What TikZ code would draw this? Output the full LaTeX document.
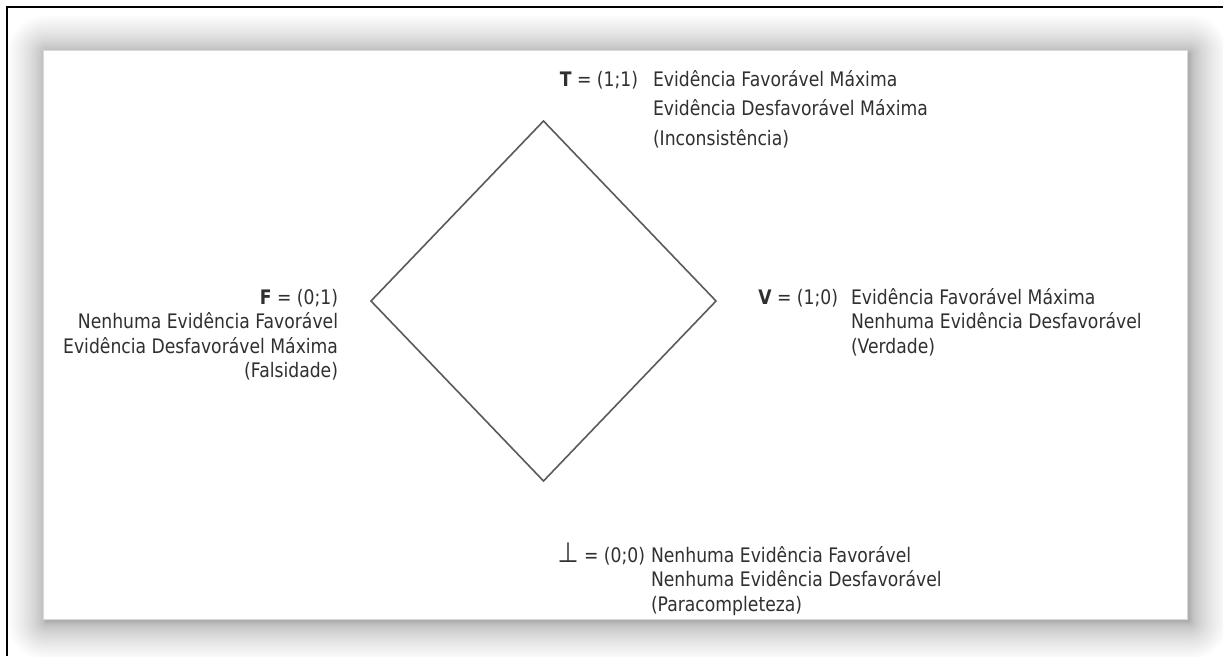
\documentclass[tikz,border=0pt]{standalone}
\usepackage{fontspec}
\setmainfont{DejaVu Sans}[FakeStretch=0.86]
\definecolor{inkgray}{HTML}{303030}
\definecolor{edgegray}{HTML}{5A5A5A}
\definecolor{panelrule}{HTML}{D8D8D8}
\begin{document}
\begin{tikzpicture}[x=1pt,y=-1pt,
  lbl/.style={inner sep=0pt, outer sep=0pt, text=inkgray,
              font=\fontsize{20}{24.5}\selectfont},
  lattice/.style={draw=edgegray, line width=1.6pt, line join=miter}]
\useasboundingbox (0,0) rectangle (1223,656);
\fill[white] (0,0) rectangle (1223,656);

% soft shadow around the panel: layers packed more densely near the edge
\foreach \i in {1,...,40}{
  \pgfmathsetmacro{\e}{38*(\i/40)^1.7}
  \fill[black, opacity=0.008, rounded corners={\e pt}]
    ({46-\e},{53-\e}) rectangle ({1190+\e},{622+\e});
}
% panel
\fill[white] (43,50) rectangle (1187,619);
\draw[panelrule, line width=1pt] (43,50) rectangle (1187,619);

% frame lines along the top and left edges
\draw[black, line width=2pt] (7,656) -- (7,7) -- (1223,7);

% lattice vertices
\coordinate (top) at (543.5,121);
\coordinate (right) at (716,301);
\coordinate (bottom) at (543.5,481);
\coordinate (left) at (371,301);
\draw[lattice] (top) -- (right) -- (bottom) -- (left) -- cycle;

% T
\node[lbl, anchor=base east] (tsym) at (638,86) {\textbf{T} = (1;1)};
\node[lbl, anchor=base west, font=\fontsize{20}{29.5}\selectfont] (ttext) at (653,86)
  {\begin{tabular}[t]{@{}l@{}}Evidência Favorável Máxima\\
   Evidência Desfavorável Máxima\\(Inconsistência)\end{tabular}};

% F
\node[lbl, anchor=base east] (ftext) at (338,304)
  {\begin{tabular}[t]{@{}r@{}}\textbf{F} = (0;1)\\Nenhuma Evidência Favorável\\
   Evidência Desfavorável Máxima\\(Falsidade)\end{tabular}};

% V
\node[lbl, anchor=base east] (vsym) at (838,304) {\textbf{V} = (1;0)};
\node[lbl, anchor=base west] (vtext) at (851,304)
  {\begin{tabular}[t]{@{}l@{}}Evidência Favorável Máxima\\
   Nenhuma Evidência Desfavorável\\(Verdade)\end{tabular}};

% bottom
\node[lbl, anchor=base east] (bsym) at (645,562)
  {{\fontsize{28}{28}\selectfont ⊥} = (0;0)};
\node[lbl, anchor=base west] (btext) at (651,562)
  {\begin{tabular}[t]{@{}l@{}}Nenhuma Evidência Favorável\\
   Nenhuma Evidência Desfavorável\\(Paracompleteza)\end{tabular}};
\end{tikzpicture}
\end{document}
